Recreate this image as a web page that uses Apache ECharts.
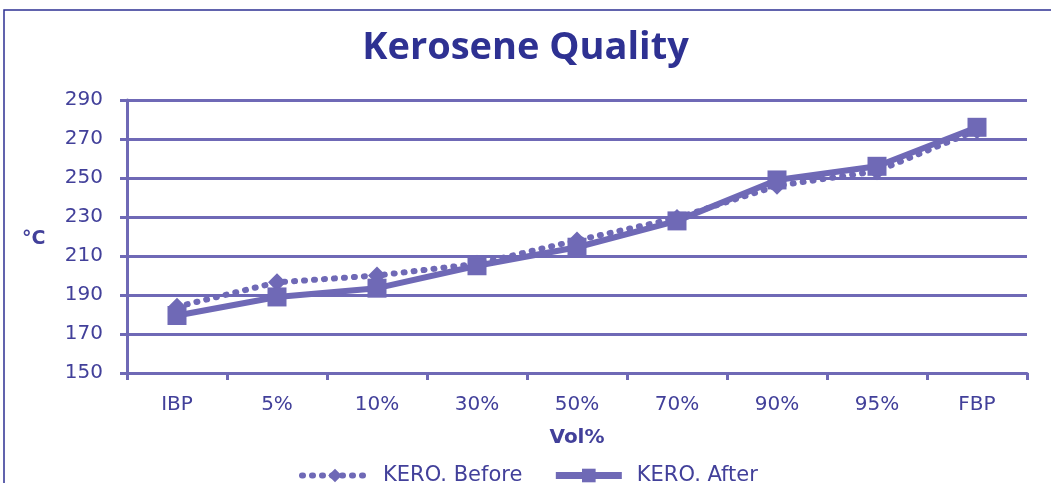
<!DOCTYPE html>
<html>
<head>
<meta charset="utf-8">
<script src="https://cdn.jsdelivr.net/npm/echarts@6/dist/echarts.min.js"></script>
<style>
html,body{margin:0;padding:0;background:#fff;}
#chart{width:1051px;height:483px;}
</style>
</head>
<body>
<div id="chart"></div>
<script>
// Distillation points (vol %) and temperatures in °C
const categories = ['IBP', '5%', '10%', '30%', '50%', '70%', '90%', '95%', 'FBP'];
const keroBefore = [184, 196.5, 200, 206, 218, 229.5, 246, 253.5, 274.5];
const keroAfter = [179.5, 189, 193.5, 205, 214.5, 228, 249, 256, 276];
const yTicks = { min: 150, max: 290, interval: 20 };

const lineColor = '#6f69b6';
const textColor = '#42409a';
const titleColor = '#2e3192';
const labelFont = '"DejaVu Sans", sans-serif';
const titleFont = '"Open Sans", sans-serif';

const chart = echarts.init(document.getElementById('chart'));
chart.setOption({
  backgroundColor: '#fff',
  animation: false,
  title: {
    text: 'Kerosene Quality',
    left: 'center',
    top: 24,
    textStyle: { color: titleColor, fontFamily: titleFont, fontWeight: 'bold', fontSize: 38 }
  },
  graphic: [{
    type: 'polyline',
    shape: { points: [[4, 483], [4, 10], [1051, 10]] },
    style: { stroke: titleColor, lineWidth: 1.5, fill: null }
  }, {
    type: 'text',
    left: 22, top: 230,
    style: { text: '°C', fill: textColor, font: 'bold 19px ' + labelFont }
  }],
  grid: { left: 127, right: 24, top: 100, bottom: 110 },
  legend: {
    top: 460,
    left: 294,
    itemGap: 30,
    itemWidth: 66,
    itemHeight: 17,
    textStyle: { color: textColor, fontFamily: labelFont, fontSize: 21, padding: [0, 0, 0, 10] },
    data: [
      { name: 'KERO. Before', lineStyle: { width: 6, type: [1, 9], cap: 'round' } },
      { name: 'KERO. After', lineStyle: { width: 7 } }
    ]
  },
  xAxis: {
    type: 'category',
    data: categories,
    name: 'Vol%',
    nameLocation: 'middle',
    nameGap: 55,
    nameTextStyle: { color: textColor, fontFamily: labelFont, fontWeight: 'bold', fontSize: 20 },
    axisLine: { lineStyle: { color: lineColor, width: 3 } },
    axisTick: { show: true, length: 7, lineStyle: { color: lineColor, width: 3 } },
    axisLabel: { color: textColor, fontFamily: labelFont, fontSize: 20, margin: 22 }
  },
  yAxis: {
    type: 'value',
    min: yTicks.min, max: yTicks.max, interval: yTicks.interval,
    axisLine: { show: true, lineStyle: { color: lineColor, width: 3 } },
    axisTick: { show: true, length: 7, lineStyle: { color: lineColor, width: 3 } },
    axisLabel: { color: textColor, fontFamily: labelFont, fontSize: 20, margin: 24 },
    splitLine: { lineStyle: { color: lineColor, width: 3 } }
  },
  series: [{
    name: 'KERO. Before',
    type: 'line',
    data: keroBefore,
    symbol: 'diamond',
    symbolSize: 18,
    itemStyle: { color: lineColor },
    lineStyle: { color: lineColor, width: 6, type: [1, 9], cap: 'round' },
    z: 2
  }, {
    name: 'KERO. After',
    type: 'line',
    data: keroAfter,
    symbol: 'rect',
    symbolSize: 19,
    itemStyle: { color: lineColor },
    lineStyle: { color: lineColor, width: 6 },
    z: 3
  }]
});
</script>
</body>
</html>
